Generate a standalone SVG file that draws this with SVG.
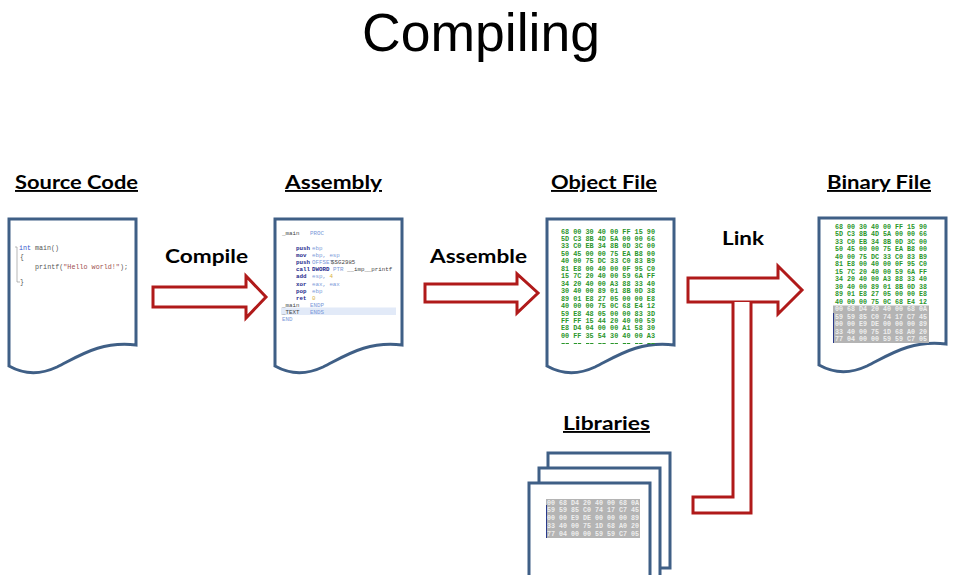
<svg xmlns="http://www.w3.org/2000/svg" width="960" height="575" viewBox="0 0 960 575">
<style>
.doc{fill:#fff;stroke:#3F5F86;stroke-width:3}
.arr{fill:#fff;stroke:#B01A1A;stroke-width:3}
.h{font-family:Lato,"Liberation Sans",Arial,sans-serif;font-weight:bold;font-size:19px;text-decoration:underline;fill:#000}
.lbl{font-family:Lato,"Liberation Sans",Arial,sans-serif;font-weight:bold;font-size:19px;fill:#000}
.hex{font-family:"Liberation Mono","DejaVu Sans Mono",monospace;font-weight:bold;font-size:7px;fill:#2A962A}
.hexg{font-family:"Liberation Mono","DejaVu Sans Mono",monospace;font-weight:bold;font-size:7px;fill:#EEEEEE}
.gb{fill:#B4B4B4}
.cur{stroke:#2A3A8A;stroke-width:1}
.src{font-family:"Liberation Mono","DejaVu Sans Mono",monospace;font-size:6.5px;fill:#555}
.asm{font-family:"Liberation Mono","DejaVu Sans Mono",monospace;font-size:5.8px}
.op{fill:#1E2A8C;font-weight:bold}
.kw{fill:#7A98D8}
.dk{fill:#444}
.nm{fill:#D8B040}
</style>
<defs>
<path id="docshape" d="M0,0 H127 V126 C92,122 72,136 48,148 C33,155 16,156 0,147 Z"/>
</defs>

<text x="362" y="51" font-family="'Liberation Sans',Arial,sans-serif" font-size="54" fill="#000" textLength="238" lengthAdjust="spacingAndGlyphs">Compiling</text>

<g id="connectors">
<path class="arr" d="M153,287 H246 V276 L266,297 L246,318 V307 H153 Z"/>
<path class="arr" d="M425,284 H517 V274 L538,293 L517,313 V302 H425 Z"/>
<path class="arr" d="M688,278 H778 V266 L802,290 L778,314 V302 H688 Z"/>
<path class="arr" d="M733,302 V497 H693 V513 H751 V302"/>
<text class="lbl" x="165" y="263" textLength="83" lengthAdjust="spacingAndGlyphs">Compile</text>
<text class="lbl" x="430" y="263" textLength="97" lengthAdjust="spacingAndGlyphs">Assemble</text>
<text class="lbl" x="722" y="245" textLength="42" lengthAdjust="spacingAndGlyphs">Link</text>
</g>

<g id="source-code">
<text class="h" x="15" y="189" textLength="123" lengthAdjust="spacingAndGlyphs">Source Code</text>
<use href="#docshape" class="doc" x="9" y="219"/>
<path d="M15,247 h2 v35 h3" fill="none" stroke="#999" stroke-width="0.7"/>
<text class="src" x="19" y="250" textLength="40" lengthAdjust="spacingAndGlyphs"><tspan fill="#3355CC">int</tspan> main()</text>
<text class="src" x="20" y="259">{</text>
<text class="src" x="35" y="269" textLength="93" lengthAdjust="spacingAndGlyphs">printf(<tspan fill="#A05050">"Hello world!"</tspan>);</text>
<text class="src" x="20" y="284">}</text>
</g>

<g id="assembly">
<text class="h" x="285" y="189" textLength="97" lengthAdjust="spacingAndGlyphs">Assembly</text>
<use href="#docshape" class="doc" x="275" y="219"/>
<rect x="281" y="307.5" width="115" height="7.5" fill="#E2EAF8"/>
<text class="asm" y="235"><tspan class="dk" x="282">_main</tspan><tspan class="kw" x="310">PROC</tspan></text>
<text class="asm" y="250"><tspan class="op" x="296">push</tspan><tspan class="kw" x="312">ebp</tspan></text>
<text class="asm" y="257"><tspan class="op" x="296">mov</tspan><tspan class="kw" x="312">ebp, esp</tspan></text>
<text class="asm" y="264"><tspan class="op" x="296">push</tspan><tspan class="kw" x="312">OFFSET</tspan><tspan class="dk" x="331">$SG2985</tspan></text>
<text class="asm" y="271"><tspan class="op" x="296">call</tspan><tspan class="op" x="312">DWORD</tspan><tspan class="kw" x="333">PTR</tspan><tspan class="dk" x="347">__imp__printf</tspan></text>
<text class="asm" y="278"><tspan class="op" x="296">add</tspan><tspan class="kw" x="312">esp, </tspan><tspan class="nm">4</tspan></text>
<text class="asm" y="286"><tspan class="op" x="296">xor</tspan><tspan class="kw" x="312">eax, eax</tspan></text>
<text class="asm" y="293"><tspan class="op" x="296">pop</tspan><tspan class="kw" x="312">ebp</tspan></text>
<text class="asm" y="300"><tspan class="op" x="296">ret</tspan><tspan class="nm" x="312">0</tspan></text>
<text class="asm" y="307"><tspan class="dk" x="282">_main</tspan><tspan class="kw" x="310">ENDP</tspan></text>
<text class="asm" y="314"><tspan class="dk" x="282">_TEXT</tspan><tspan class="kw" x="310">ENDS</tspan></text>
<text class="asm" y="321"><tspan class="kw" x="282">END</tspan></text>
</g>

<g id="object-file">
<text class="h" x="551" y="189" textLength="106" lengthAdjust="spacingAndGlyphs">Object File</text>
<use href="#docshape" class="doc" x="547" y="219"/>
<g class="hex">
<text x="561" y="233.5" textLength="94" lengthAdjust="spacingAndGlyphs">68 00 30 40 00 FF 15 90</text>
<text x="561" y="241" textLength="94" lengthAdjust="spacingAndGlyphs">5D C3 8B 4D 5A 00 00 66</text>
<text x="561" y="248.4" textLength="94" lengthAdjust="spacingAndGlyphs">33 C0 EB 34 8B 0D 3C 00</text>
<text x="561" y="255.9" textLength="94" lengthAdjust="spacingAndGlyphs">50 45 00 00 75 EA B8 00</text>
<text x="561" y="263.3" textLength="94" lengthAdjust="spacingAndGlyphs">40 00 75 DC 33 C0 83 B9</text>
<text x="561" y="270.8" textLength="94" lengthAdjust="spacingAndGlyphs">81 E8 00 40 00 0F 95 C0</text>
<text x="561" y="278.2" textLength="94" lengthAdjust="spacingAndGlyphs">15 7C 20 40 00 59 6A FF</text>
<text x="561" y="285.7" textLength="94" lengthAdjust="spacingAndGlyphs">34 20 40 00 A3 88 33 40</text>
<text x="561" y="293.1" textLength="94" lengthAdjust="spacingAndGlyphs">30 40 00 89 01 8B 0D 38</text>
<text x="561" y="300.6" textLength="94" lengthAdjust="spacingAndGlyphs">89 01 E8 27 05 00 00 E8</text>
<text x="561" y="308" textLength="94" lengthAdjust="spacingAndGlyphs">40 00 00 75 0C 68 E4 12</text>
<text x="561" y="315.5" textLength="94" lengthAdjust="spacingAndGlyphs">59 E8 48 05 00 00 83 3D</text>
<text x="561" y="322.9" textLength="94" lengthAdjust="spacingAndGlyphs">FF FF 15 44 20 40 00 59</text>
<text x="561" y="330.4" textLength="94" lengthAdjust="spacingAndGlyphs">E8 D4 04 00 00 A1 58 30</text>
<text x="561" y="337.8" textLength="94" lengthAdjust="spacingAndGlyphs">00 FF 35 54 30 40 00 A3</text>
</g>
<line x1="561.5" y1="343.5" x2="655" y2="343.5" stroke="#2A962A" stroke-width="1.2" stroke-dasharray="3.3 0.8 3.3 4.86"/>
</g>

<g id="binary-file">
<text class="h" x="827" y="189" textLength="104" lengthAdjust="spacingAndGlyphs">Binary File</text>
<use href="#docshape" class="doc" x="819" y="218"/>
<g class="hex">
<text x="835" y="228.5" textLength="92" lengthAdjust="spacingAndGlyphs">68 00 30 40 00 FF 15 90</text>
<text x="835" y="236" textLength="92" lengthAdjust="spacingAndGlyphs">5D C3 8B 4D 5A 00 00 66</text>
<text x="835" y="243.5" textLength="92" lengthAdjust="spacingAndGlyphs">33 C0 EB 34 8B 0D 3C 00</text>
<text x="835" y="251" textLength="92" lengthAdjust="spacingAndGlyphs">50 45 00 00 75 EA B8 00</text>
<text x="835" y="258.5" textLength="92" lengthAdjust="spacingAndGlyphs">40 00 75 DC 33 C0 83 B9</text>
<text x="835" y="266" textLength="92" lengthAdjust="spacingAndGlyphs">81 E8 00 40 00 0F 95 C0</text>
<text x="835" y="273.5" textLength="92" lengthAdjust="spacingAndGlyphs">15 7C 20 40 00 59 6A FF</text>
<text x="835" y="281" textLength="92" lengthAdjust="spacingAndGlyphs">34 20 40 00 A3 88 33 40</text>
<text x="835" y="288.5" textLength="92" lengthAdjust="spacingAndGlyphs">30 40 00 89 01 8B 0D 38</text>
<text x="835" y="296" textLength="92" lengthAdjust="spacingAndGlyphs">89 01 E8 27 05 00 00 E8</text>
<text x="835" y="303.5" textLength="92" lengthAdjust="spacingAndGlyphs">40 00 00 75 0C 68 E4 12</text>
</g>
<rect class="gb" x="833" y="305.5" width="96" height="37.5"/>
<line class="cur" x1="833.5" y1="313" x2="833.5" y2="343"/>
<g class="hexg">
<text x="835" y="311" textLength="92" lengthAdjust="spacingAndGlyphs">00 68 D4 20 40 00 68 0A</text>
<text x="835" y="318.5" textLength="92" lengthAdjust="spacingAndGlyphs">59 59 85 C0 74 17 C7 45</text>
<text x="835" y="326" textLength="92" lengthAdjust="spacingAndGlyphs">00 00 E9 DE 00 00 00 89</text>
<text x="835" y="333.5" textLength="92" lengthAdjust="spacingAndGlyphs">33 40 00 75 1D 68 A0 20</text>
<text x="835" y="341" textLength="92" lengthAdjust="spacingAndGlyphs">77 04 00 00 59 59 C7 05</text>
</g>
</g>

<g id="libraries">
<text class="h" x="563" y="430" textLength="87" lengthAdjust="spacingAndGlyphs">Libraries</text>
<rect class="doc" x="548" y="453" width="122" height="115"/>
<rect class="doc" x="539" y="468" width="121" height="120"/>
<rect class="doc" x="529" y="483" width="121" height="110"/>
<rect class="gb" x="546" y="499" width="94" height="39"/>
<line class="cur" x1="546.5" y1="505" x2="546.5" y2="538"/>
<g class="hexg">
<text x="547" y="504.5" textLength="92" lengthAdjust="spacingAndGlyphs">00 68 D4 20 40 00 68 0A</text>
<text x="547" y="512.2" textLength="92" lengthAdjust="spacingAndGlyphs">59 59 85 C0 74 17 C7 45</text>
<text x="547" y="520" textLength="92" lengthAdjust="spacingAndGlyphs">00 00 E9 DE 00 00 00 89</text>
<text x="547" y="527.8" textLength="92" lengthAdjust="spacingAndGlyphs">33 40 00 75 1D 68 A0 20</text>
<text x="547" y="535.5" textLength="92" lengthAdjust="spacingAndGlyphs">77 04 00 00 59 59 C7 05</text>
</g>
</g>
</svg>
